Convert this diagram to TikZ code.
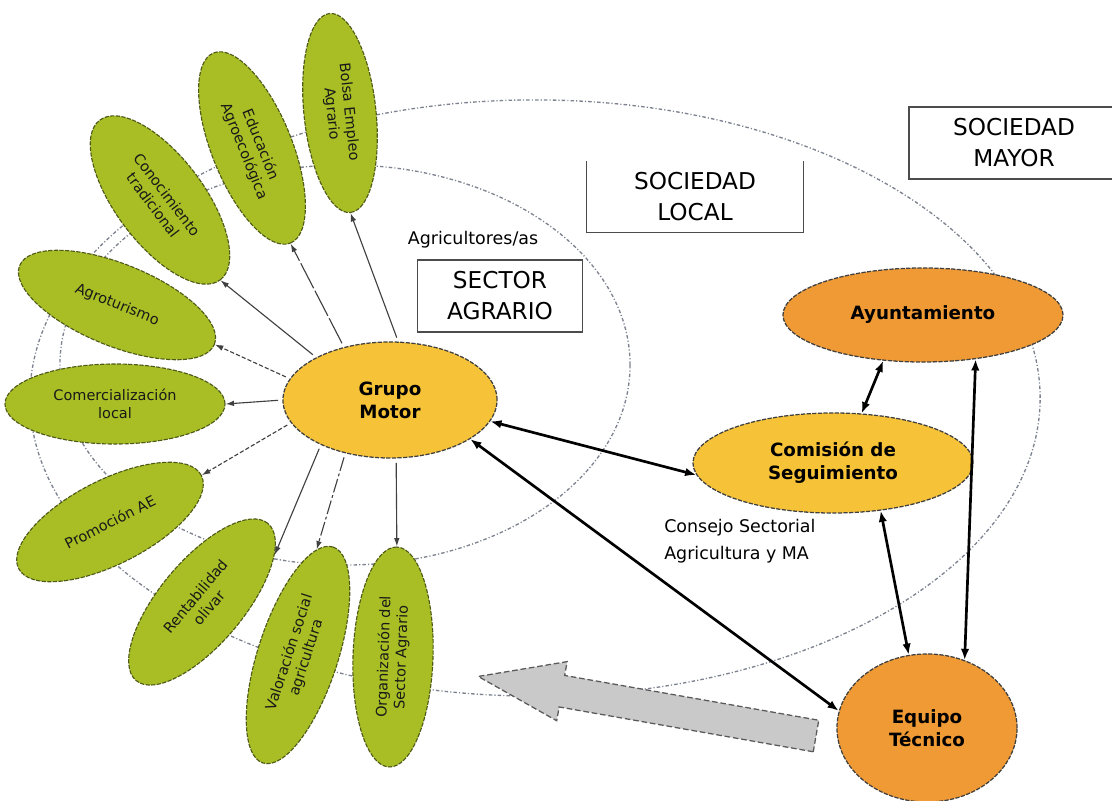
\documentclass[tikz,border=0pt]{standalone}
\usepackage{fontspec}
\setmainfont{DejaVu Sans}
\usetikzlibrary{shapes.geometric,arrows.meta}

\definecolor{petalgreen}{HTML}{A8BE24}
\definecolor{petalline}{HTML}{4F5A18}
\definecolor{motorgold}{HTML}{F6C338}
\definecolor{townorange}{HTML}{EF9A34}
\definecolor{arrowgray}{HTML}{C9C9C9}
\definecolor{ringgray}{HTML}{7C8290}

\begin{document}
\begin{tikzpicture}[x=0.025cm,y=-0.025cm,
  ring/.style={ringgray, line width=0.95pt, dash pattern=on 2.5pt off 1.5pt on 0.8pt off 1.5pt},
  petal/.style={ellipse, draw=petalline, fill=petalgreen, line width=0.8pt,
    dash pattern=on 3pt off 1pt, inner sep=0pt, align=center, text=black!90,
    font=\fontsize{10.3}{12.5}\selectfont},
  actor/.style={ellipse, draw=black!75, line width=0.9pt, dash pattern=on 3pt off 1pt,
    inner sep=0pt, align=center, font=\bfseries\fontsize{13}{16.5}\selectfont},
  sector/.style={align=center, inner sep=0pt, font=\fontsize{16.5}{22}\selectfont},
  tag/.style={align=left, inner sep=0pt, font=\fontsize{12.4}{19}\selectfont},
  spoke/.style={-{Latex[length=6pt,width=4pt]}, black!75, line width=0.8pt, shorten <=3pt},
  link/.style={{Latex[length=8pt,width=6pt]}-{Latex[length=8pt,width=6pt]}, line width=1.9pt},
  bigarrow/.style={fill=arrowgray, draw=black!65, line width=0.9pt, dash pattern=on 4pt off 2pt}
]
\useasboundingbox (0,0) rectangle (1112,801);

% dotted rings: sector agrario and sociedad local
\draw[ring] (535,398) ellipse [x radius=12.625cm, y radius=7.45cm];
\draw[ring] (345,365) ellipse [x radius=7.125cm, y radius=5cm];

% big gray arrow
\begin{scope}[shift={(816,736)}, rotate=170]
\draw[bigarrow] (0,-16) -- (258,-16) -- (258,-30) -- (343,0) -- (258,30) -- (258,16) -- (0,16) -- cycle;
\end{scope}

% petals
\node[petal, rotate=-84, minimum width=5cm, minimum height=1.8cm] (p1) at (340,113) {Bolsa Empleo\\Agrario};
\node[petal, rotate=-68, minimum width=5.125cm, minimum height=2cm] (p2) at (252,148) {Educación\\Agroecológica};
\node[petal, rotate=-53, minimum width=5cm, minimum height=2.2cm] (p3) at (160,200) {Conocimiento\\tradicional};
\node[petal, rotate=-22, minimum width=5.25cm, minimum height=2.05cm] (p4) at (117,305) {Agroturismo};
\node[petal, minimum width=5.5cm, minimum height=2cm] (p5) at (115,404) {Comercialización\\local};
\node[petal, rotate=27, minimum width=5.125cm, minimum height=2.1cm] (p6) at (110,522) {Promoción AE};
\node[petal, rotate=50, minimum width=5.125cm, minimum height=2.1cm] (p7) at (202,602) {Rentabilidad\\olivar};
\node[petal, rotate=72, minimum width=5.675cm, minimum height=2cm] (p8) at (298,655) {Valoración social\\agricultura};
\node[petal, rotate=88, minimum width=5.5cm, minimum height=2cm] (p9) at (393,657) {Organización del\\Sector Agrario};

% actors
\node[actor, fill=motorgold, minimum width=5.35cm, minimum height=2.9cm] (gm) at (390,400) {Grupo\\Motor};
\node[actor, fill=motorgold, minimum width=7cm, minimum height=2.5cm] (cs) at (833,463) {Comisión de\\Seguimiento};
\node[actor, fill=townorange, minimum width=7cm, minimum height=2.35cm] (ay) at (923,315) {Ayuntamiento};
\node[actor, fill=townorange, minimum width=4.5cm, minimum height=3.7cm] (et) at (927,728) {Equipo\\Técnico};

% boxes and labels
\node[sector, draw=black!70, line width=0.9pt, minimum width=4.125cm, minimum height=1.8cm] (sa) at (500,296) {SECTOR\\AGRARIO};
\node[sector, minimum width=5.4cm, minimum height=1.775cm] (sl) at (695,197) {SOCIEDAD\\LOCAL};
\draw[black!70, line width=0.9pt] (sl.north west) -- (sl.south west) -- (sl.south east) -- (sl.north east);
\node[sector, draw=black!70, line width=0.9pt, minimum width=5.25cm, minimum height=1.8cm] (sm) at (1014,143) {SOCIEDAD\\MAYOR};
\node[tag] (agr) at (473,240) {Agricultores/as};
\node[tag, anchor=west] (cons) at (664,541) {Consejo Sectorial\\Agricultura y MA};

% grupo motor to the petals
\draw[spoke] (gm.82) -- (p1.east);
\draw[spoke, dash pattern=on 20pt off 2pt] (gm.131) -- (p2.east);
\draw[spoke] (gm.150) -- (p3.east);
\draw[spoke, dash pattern=on 3pt off 1.5pt] (gm.168) -- (p4.east);
\draw[spoke] (gm.180) -- (p5.east);
\draw[spoke, dash pattern=on 3pt off 1.5pt] (gm.193) -- (p6.east);
\draw[spoke] (gm.213) -- (p7.-17);
\draw[spoke, dash pattern=on 10pt off 2pt on 2pt off 2pt] (gm.230) -- (p8.8);
\draw[spoke] (gm.276) -- (p9.east);

% links between actors
\draw[link] (gm.-12) -- (cs.185);
\draw[link] (gm.-26) -- (et.169);
\draw[link] (cs.60) -- (ay.229);
\draw[link] (cs.-45) -- (et.104);
\draw[link] (ay.-40) -- (et.61);
\end{tikzpicture}
\end{document}
